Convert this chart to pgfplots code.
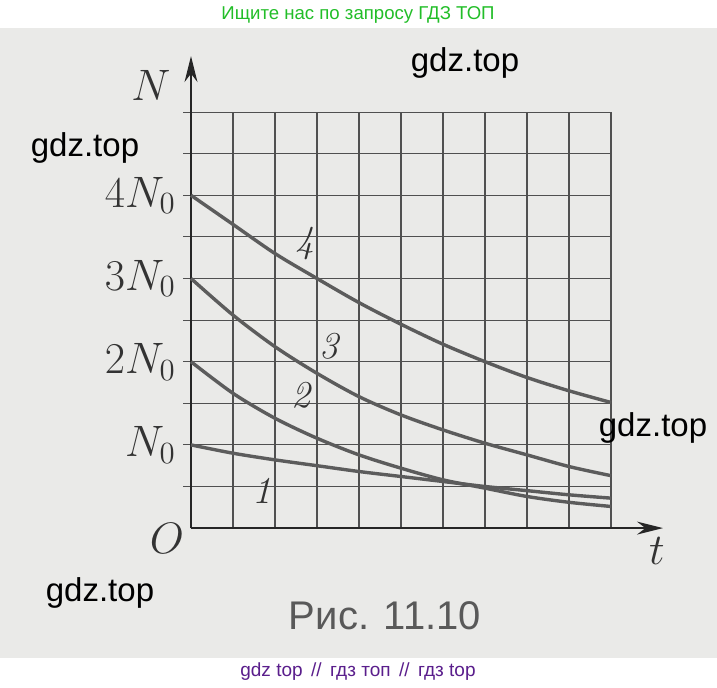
\RequirePackage{fix-cm}
\documentclass[border=0pt]{standalone}
\usepackage{pgfplots}
\pgfplotsset{compat=1.18}
\usetikzlibrary{arrows.meta}
\usepackage{fontspec}
\newfontfamily\wm{Liberation Sans}
\definecolor{bgc}{RGB}{234,234,232}
\definecolor{curve}{RGB}{92,92,92}
\definecolor{gridc}{RGB}{80,80,80}
\definecolor{hdr}{RGB}{34,190,40}
\definecolor{ftr}{RGB}{90,30,140}
\begin{document}
\begin{tikzpicture}
\begin{scope}[x=0.5pt,y=-0.5pt]
\fill[white] (0,0) rectangle (717,684);
\fill[bgc] (0,25) rectangle (717,655);
\end{scope}
\begin{axis}[
  at={(95.5pt,-262.5pt)}, anchor=south west,
  scale only axis, width=210pt, height=208pt,
  xmin=0, xmax=10, ymin=0, ymax=10,
  axis lines=left,
  x axis line style={-{Stealth[length=13pt,width=6.5pt]}, shorten >=-26pt, line width=0.8pt, black!85},
  y axis line style={-{Stealth[length=13pt,width=6.5pt]}, shorten >=-28pt, line width=0.8pt, black!85},
  xtick={0,1,...,10}, xticklabels={},
  xtick style={draw=none},
  ytick={1,2,...,10},
  yticklabels={{},$N_0$,{},$2N_0$,{},$3N_0$,{},$4N_0$,{},{}},
  tick align=outside, major tick length=4pt,
  ytick style={gridc, line width=0.55pt},
  grid=major, major grid style={gridc, line width=0.55pt},
  yticklabel style={font=\fontsize{22}{26}\selectfont, inner sep=3.5pt, black!80},
  clip=false,
]
\addplot[curve, line width=1.7pt, smooth] coordinates {(0,8) (1,7.3) (2,6.6) (3,6.0) (4,5.42) (5,4.9) (6,4.42) (7,4.0) (8,3.62) (9,3.3) (10,3.02)};
\addplot[curve, line width=1.7pt, smooth] coordinates {(0,6) (1,5.12) (2,4.36) (3,3.72) (4,3.16) (5,2.72) (6,2.36) (7,2.04) (8,1.76) (9,1.48) (10,1.26)};
\addplot[curve, line width=1.7pt, smooth] coordinates {(0,4) (1,3.24) (2,2.64) (3,2.16) (4,1.76) (5,1.44) (6,1.16) (7,0.96) (8,0.76) (9,0.62) (10,0.52)};
\addplot[curve, line width=1.7pt, smooth] coordinates {(0,2) (1,1.8) (2,1.64) (3,1.5) (4,1.36) (5,1.24) (6,1.12) (7,1.0) (8,0.9) (9,0.8) (10,0.72)};
\node[black!80, font=\fontsize{19}{22}\selectfont] at (axis cs:2.71,6.85) {\textit{4}};
\node[black!80, font=\fontsize{19}{22}\selectfont] at (axis cs:3.31,4.38) {\textit{3}};
\node[black!80, font=\fontsize{19}{22}\selectfont] at (axis cs:2.64,3.2) {\textit{2}};
\node[black!80, font=\fontsize{19}{22}\selectfont] at (axis cs:1.69,0.89) {\textit{1}};
\end{axis}
\begin{scope}[x=0.5pt,y=-0.5pt]
\node[black!80, font=\fontsize{22}{26}\selectfont] at (151,82) {$N$};
\node[black!80, font=\fontsize{22}{26}\selectfont] at (167,535) {$O$};
\node[black!80, font=\fontsize{22}{26}\selectfont] at (657,548) {$t$};
\node[black!65, font=\wm\fontsize{20}{24}\selectfont] at (385,613) {Рис. 11.10};
\node[hdr, font=\wm\fontsize{9.3}{11}\selectfont] at (358,12) {Ищите нас по запросу ГДЗ ТОП};
\node[ftr, font=\wm\fontsize{9.5}{11}\selectfont] at (358,668) {gdz top \,//\, гдз топ \,//\, гдз top};
\node[black, font=\wm\fontsize{16.5}{20}\selectfont] at (465,60) {gdz.top};
\node[black, font=\wm\fontsize{16.5}{20}\selectfont] at (85,145) {gdz.top};
\node[black, font=\wm\fontsize{16.5}{20}\selectfont] at (653,425) {gdz.top};
\node[black, font=\wm\fontsize{16.5}{20}\selectfont] at (100,590) {gdz.top};
\end{scope}
\end{tikzpicture}
\end{document}
